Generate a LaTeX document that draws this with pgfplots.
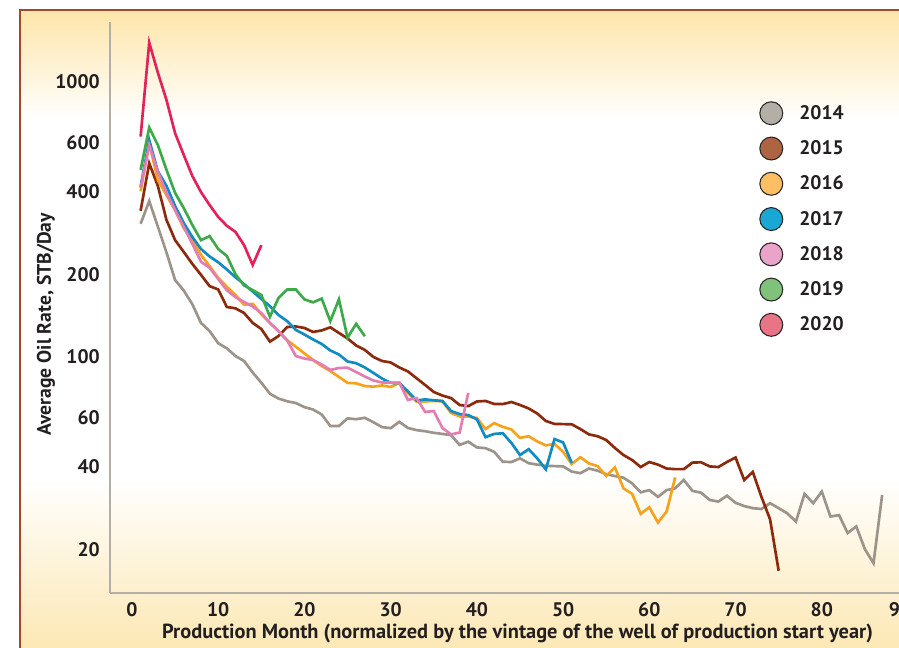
\documentclass[border=0pt]{standalone}
\usepackage{fontspec}
\setmainfont{PT Sans}
\usepackage{pgfplots}
\pgfplotsset{compat=1.18}
\definecolor{c14}{HTML}{9C948A}
\definecolor{c15}{HTML}{8B2A0D}
\definecolor{c16}{HTML}{F7A21C}
\definecolor{c17}{HTML}{0F8CC1}
\definecolor{c18}{HTML}{E57DB5}
\definecolor{c19}{HTML}{3DAA4A}
\definecolor{c20}{HTML}{E3215B}
\definecolor{l14}{HTML}{B3AEA6}
\definecolor{l15}{HTML}{AE6442}
\definecolor{l16}{HTML}{FEBF63}
\definecolor{l17}{HTML}{19A8D3}
\definecolor{l18}{HTML}{EBA4C9}
\definecolor{l19}{HTML}{80C27C}
\definecolor{l20}{HTML}{E87486}
\definecolor{bgtop}{HTML}{FEE6AA}
\definecolor{bgbot}{HTML}{FDE8B4}
\definecolor{framec}{HTML}{A5472A}
\definecolor{axisc}{HTML}{B5AEA6}
\definecolor{textc}{HTML}{231F20}
\newcommand{\lfont}{\bfseries\fontsize{14.7}{17}\selectfont}
\newcommand{\xlfont}{\bfseries\fontsize{15.3}{17}\selectfont}
\begin{document}
\begin{tikzpicture}
\path[use as bounding box] (0pt,0pt) rectangle (674.25pt,-485.25pt);
\clip (0pt,0pt) rectangle (674.25pt,-485.25pt);
\begin{scope}[x=0.75pt,y=-0.75pt]
\fill[white] (0,0) rectangle (899,647);
\shade[top color=bgtop, bottom color=white] (20,10) rectangle (905,120);
\shade[top color=white, bottom color=bgbot] (20,478) rectangle (905,650);
\draw[framec, line width=1.1pt] (905,10) -- (20,10) -- (20,660);
\coordinate (AO) at (110,593);
\end{scope}
\begin{axis}[
  at={(AO)}, anchor=south west, scale only axis,
  width=598.5pt, height=428.25pt,
  xmin=-2.55, xmax=90, ymode=log, ymin=13.86, ymax=1652,
  axis x line=bottom, axis y line=left,
  axis line style={-, draw=axisc, line width=1.5pt},
  major tick length=0pt, tick style={draw=none},
  yminorticks=false, xminorticks=false,
  xtick={0,10,20,30,40,50,60,70,80,90},
  xticklabels={0,10,20,30,40,50,60,70,80,\hspace*{-12pt}90},
  ytick={20,40,60,100,200,400,600,1000},
  yticklabels={20,40,60,100,200,400,600,1000},
  /pgf/number format/assume math mode=true,
  ticklabel style={font=\lfont, text=textc, inner sep=0pt},
  yticklabel style={anchor=east, xshift=-7.5pt},
  xticklabel style={anchor=north, yshift=-7pt},
  xlabel={Production Month (normalized by the vintage of the well of production start year)},
  ylabel={Average Oil Rate, STB/Day},
  every axis x label/.style={at={(axis description cs:0.5107,0)}, yshift=-30pt, anchor=center, font=\xlfont, text=textc},
  every axis y label/.style={at={(axis description cs:0,0.471)}, xshift=-48pt, rotate=90, anchor=center, font=\lfont, text=textc},
  legend style={draw=none, fill=none, at={(0.8133,0.8617)}, anchor=north west,
    font=\lfont, text=textc, row sep=8.45pt, column sep=12pt, inner sep=0pt,
    nodes={inner sep=0pt}},
  legend cell align=left,
  every axis plot/.append style={line width=2pt, line join=miter, no markers},
]
\addplot[c14, forget plot] coordinates {(1,305)(2,369)(3,298)(4,240)(5,190.5)(6,174.5)(7,155.5)(8,133)(9,124.3)(10,112.2)(11,107.5)(12,100.8)(13,96.7)(14,87.8)(15,80.6)(16,73.5)(17,70.6)(18,69.0)(19,68.0)(20,65.7)(21,64.4)(22,61.8)(23,56.1)(24,56.1)(25,59.8)(26,59.4)(27,60.1)(28,57.9)(29,55.6)(30,55.1)(31,58.1)(32,55.2)(33,54.2)(34,53.7)(35,53.0)(36,52.5)(37,52.0)(38,47.9)(39,49.2)(40,46.9)(41,46.6)(42,45.2)(43,41.6)(44,41.5)(45,42.8)(46,41.1)(47,40.6)(48,40.2)(49,40.1)(50,40.0)(51,38.3)(52,37.8)(53,39.3)(54,38.6)(55,37.5)(56,36.9)(57,36.4)(58,34.7)(59,32.2)(60,32.8)(61,31.0)(62,32.8)(63,33.3)(64,35.7)(65,32.6)(66,32.1)(67,30.2)(68,29.8)(69,31.3)(70,29.5)(71,28.7)(72,28.2)(73,28.0)(74,29.4)(75,28.2)(76,27.0)(77,25.2)(78,31.8)(79,29.4)(80,32.4)(81,26.3)(82,26.6)(83,22.9)(84,24.2)(85,20.0)(86,17.8)(87,31.5)};
\addplot[c15, forget plot] coordinates {(1,340)(2,506)(3,419)(4,315)(5,266)(6,241)(7,218)(8,199)(9,181)(10,176)(11,152)(12,150.3)(13,144.5)(14,133)(15,126.4)(16,113.7)(17,119.2)(18,128.5)(19,129.1)(20,127.5)(21,123.3)(22,124.9)(23,128.2)(24,122.3)(25,116.8)(26,110.1)(27,106.1)(28,100)(29,96.7)(30,95.5)(31,91.6)(32,88.6)(33,83.7)(34,79.1)(35,74.6)(36,72.4)(37,70.9)(38,66.9)(39,66.3)(40,68.9)(41,69.2)(42,67.5)(43,67.4)(44,68.6)(45,66.9)(46,65.0)(47,62.3)(48,58.5)(49,57.1)(50,57.0)(51,56.9)(52,54.7)(53,52.3)(54,51.5)(55,49.9)(56,46.7)(57,44.0)(58,42.2)(59,39.8)(60,41.5)(61,40.6)(62,39.3)(63,39.1)(64,39.1)(65,41.3)(66,41.4)(67,40.0)(68,39.8)(69,41.5)(70,43.1)(71,35.7)(72,38.2)(73,31.0)(74,25.7)(75,16.7)};
\addplot[c16, forget plot] coordinates {(1,400)(2,600)(3,440)(4,388)(5,342)(6,294)(7,266)(8,235)(9,214)(10,194)(11,180)(12,168)(13,155)(14,156)(15,143)(16,133)(17,124)(18,115)(19,109)(20,103)(21,97.5)(22,92.7)(23,88.9)(24,84.6)(25,80.5)(26,80.2)(27,78.4)(28,78.0)(29,78.8)(30,77.8)(31,80.5)(32,74.0)(33,68.9)(34,68.9)(35,69.2)(36,69.0)(37,62.6)(38,60.8)(39,60.7)(40,60.0)(41,54.7)(42,57.5)(43,55.7)(44,54.5)(45,50.8)(46,51.5)(47,49.3)(48,47.7)(49,48.3)(50,45.2)(51,40.8)(52,43.2)(53,41.0)(54,40.1)(55,36.9)(56,39.7)(57,33.3)(58,31.8)(59,26.9)(60,28.4)(61,25.0)(62,27.4)(63,36.5)};
\addplot[c17, forget plot] coordinates {(1,416)(2,615)(3,473)(4,419)(5,354)(6,307)(7,273)(8,247)(9,232)(10,221)(11,208)(12,195)(13,184)(14,173)(15,162.5)(16,153)(17,142)(18,135)(19,125.4)(20,120.7)(21,115.8)(22,111.5)(23,105.6)(24,102.1)(25,96.3)(26,94.9)(27,91.6)(28,87.5)(29,83.5)(30,80.5)(31,80.4)(32,74.9)(33,69.5)(34,70.1)(35,69.6)(36,69.2)(37,63.6)(38,62.0)(39,61.5)(40,59.3)(41,51.1)(42,52.5)(43,52.8)(44,48.7)(45,44.0)(46,46.2)(47,42.8)(48,39.0)(49,50.3)(50,48.9)(51,41.2)};
\addplot[c18, forget plot] coordinates {(1,412)(2,590)(3,471)(4,395)(5,342)(6,297)(7,258)(8,222)(9,211)(10,192)(11,175)(12,165)(13,158.5)(14,152.6)(15,144.5)(16,133)(17,124)(18,114.8)(19,100.8)(20,98.7)(21,97.5)(22,93.9)(23,89.7)(24,91.2)(25,91.4)(26,88.2)(27,84.9)(28,82.1)(29,80.8)(30,80.7)(31,80.7)(32,69.8)(33,70.9)(34,63.1)(35,63.6)(36,55.2)(37,52.3)(38,53.1)(39,74.0)};
\addplot[c19, forget plot] coordinates {(1,479)(2,682)(3,590)(4,479)(5,395)(6,348)(7,302)(8,266)(9,275)(10,247)(11,233)(12,200)(13,182)(14,175)(15,168)(16,140)(17,164)(18,176)(19,176)(20,162)(21,158)(22,163)(23,135)(24,162)(25,117.5)(26,132)(27,119)};
\addplot[c20, forget plot] coordinates {(1,633)(2,1390)(3,1081)(4,860)(5,651)(6,543)(7,455)(8,398)(9,357)(10,323)(11,300)(12,285)(13,255)(14,216)(15,255)};
\addlegendimage{legend image code/.code={\draw[black!85, line width=0.8pt, fill=l14] (0pt,0pt) circle (8.6pt);}}
\addlegendentry{2014}
\addlegendimage{legend image code/.code={\draw[black!85, line width=0.8pt, fill=l15] (0pt,0pt) circle (8.6pt);}}
\addlegendentry{2015}
\addlegendimage{legend image code/.code={\draw[black!85, line width=0.8pt, fill=l16] (0pt,0pt) circle (8.6pt);}}
\addlegendentry{2016}
\addlegendimage{legend image code/.code={\draw[black!85, line width=0.8pt, fill=l17] (0pt,0pt) circle (8.6pt);}}
\addlegendentry{2017}
\addlegendimage{legend image code/.code={\draw[black!85, line width=0.8pt, fill=l18] (0pt,0pt) circle (8.6pt);}}
\addlegendentry{2018}
\addlegendimage{legend image code/.code={\draw[black!85, line width=0.8pt, fill=l19] (0pt,0pt) circle (8.6pt);}}
\addlegendentry{2019}
\addlegendimage{legend image code/.code={\draw[black!85, line width=0.8pt, fill=l20] (0pt,0pt) circle (8.6pt);}}
\addlegendentry{2020}
\end{axis}
\end{tikzpicture}
\end{document}
